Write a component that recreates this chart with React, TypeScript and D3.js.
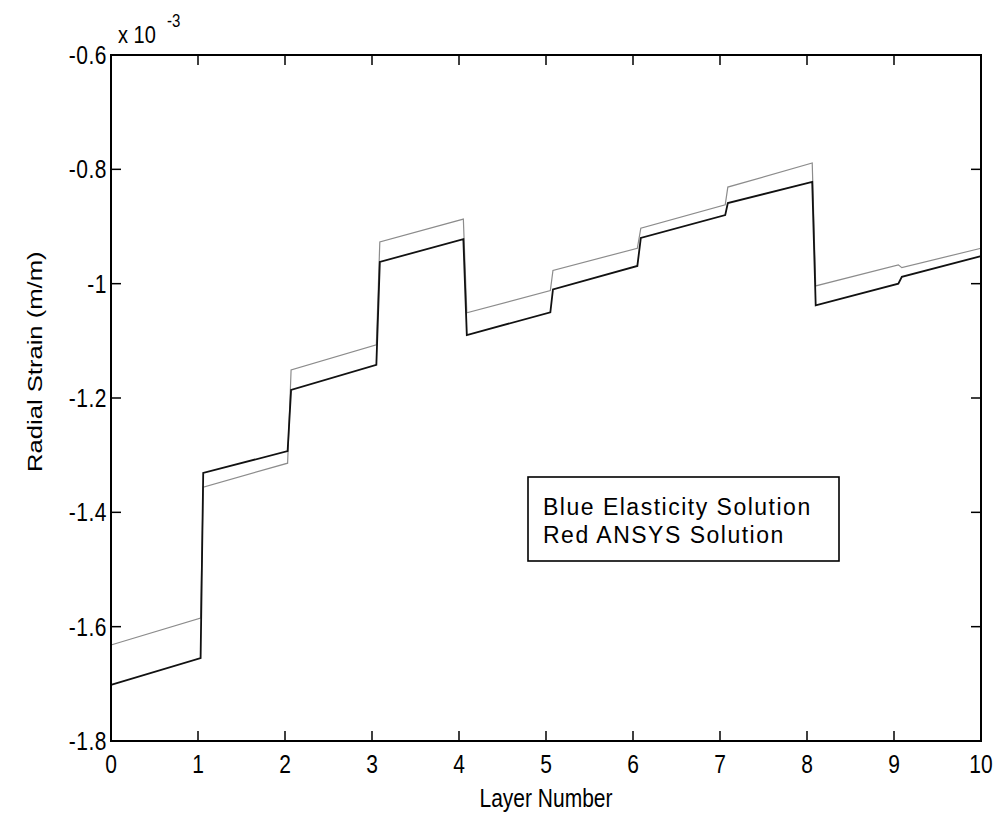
import React, { useEffect, useRef } from 'react';
import * as d3 from 'd3';

// Layer extents (layer number units) for each stepped segment
const layerStart = [0, 1.06, 2.07, 3.09, 4.09, 5.08, 6.09, 7.09, 8.1, 9.09];
const layerEnd = [1.03, 2.03, 3.05, 4.05, 5.05, 6.05, 7.06, 8.06, 9.05, 10];

// Radial strain (x 10^-3 m/m) at the start and end of each layer
const elasticityStart = [-1.702, -1.331, -1.186, -0.962, -1.09, -1.01, -0.92, -0.859, -1.038, -0.988];
const elasticityEnd = [-1.655, -1.293, -1.142, -0.922, -1.05, -0.969, -0.88, -0.822, -1.0, -0.952];
const ansysStart = [-1.632, -1.356, -1.151, -0.927, -1.051, -0.977, -0.903, -0.831, -1.004, -0.972];
const ansysEnd = [-1.585, -1.314, -1.107, -0.887, -1.012, -0.938, -0.862, -0.789, -0.967, -0.938];

const xTicks = [0, 1, 2, 3, 4, 5, 6, 7, 8, 9, 10];
const yTicks = [-1.8, -1.6, -1.4, -1.2, -1.0, -0.8, -0.6];
const legendLines = ['Blue Elasticity Solution', 'Red ANSYS Solution'];

const W = 995;
const H = 814;
const FONT = '"Liberation Sans", Arial, Helvetica, sans-serif';

export default function App() {
  const ref = useRef<SVGSVGElement>(null);

  useEffect(() => {
    const svg = d3.select(ref.current);
    svg.selectAll('*').remove();

    const left = 111, right = 981, top = 55, bottom = 741;
    const x = d3.scaleLinear().domain([0, 10]).range([left, right]);
    const y = d3.scaleLinear().domain([-1.8, -0.6]).range([bottom, top]);

    svg.append('rect').attr('width', W).attr('height', H).attr('fill', '#fff');

    const toPoints = (s: number[], e: number[]) => {
      const pts: [number, number][] = [];
      layerStart.forEach((xs, i) => {
        pts.push([xs, s[i]]);
        pts.push([layerEnd[i], e[i]]);
      });
      return pts;
    };

    const line = d3.line<[number, number]>().x(d => x(d[0])).y(d => y(d[1]));

    svg.append('path')
      .attr('d', line(toPoints(ansysStart, ansysEnd)))
      .attr('fill', 'none')
      .attr('stroke', '#8c8c8c')
      .attr('stroke-width', 1.2);

    svg.append('path')
      .attr('d', line(toPoints(elasticityStart, elasticityEnd)))
      .attr('fill', 'none')
      .attr('stroke', '#111')
      .attr('stroke-width', 1.8);

    // Frame
    svg.append('rect')
      .attr('x', left).attr('y', top)
      .attr('width', right - left).attr('height', bottom - top)
      .attr('fill', 'none').attr('stroke', '#000').attr('stroke-width', 2);

    const tk = 10;
    const g = svg.append('g').attr('stroke', '#000').attr('stroke-width', 1.5);
    xTicks.forEach(t => {
      g.append('line').attr('x1', x(t)).attr('x2', x(t)).attr('y1', bottom).attr('y2', bottom - tk);
      g.append('line').attr('x1', x(t)).attr('x2', x(t)).attr('y1', top).attr('y2', top + tk);
    });
    yTicks.forEach(t => {
      g.append('line').attr('x1', left).attr('x2', left + tk).attr('y1', y(t)).attr('y2', y(t));
      g.append('line').attr('x1', right).attr('x2', right - tk).attr('y1', y(t)).attr('y2', y(t));
    });

    const txt = svg.append('g').attr('font-family', FONT).attr('fill', '#000');

    xTicks.forEach(t => {
      txt.append('text')
        .attr('transform', `translate(${x(t)},773) scale(1,1.22)`)
        .attr('text-anchor', 'middle')
        .attr('font-size', 21)
        .text(String(t));
    });

    const fmt = (v: number) => String(Number(v.toFixed(1)));
    yTicks.forEach(t => {
      txt.append('text')
        .attr('transform', `translate(107,${y(t) + 9}) scale(1,1.22)`)
        .attr('text-anchor', 'end')
        .attr('font-size', 21)
        .attr('letter-spacing', 0.5)
        .text(fmt(t));
    });

    // Exponent label
    txt.append('text')
      .attr('transform', 'translate(118,43) scale(1,1.22)')
      .attr('font-size', 20)
      .text('x 10');
    txt.append('text')
      .attr('transform', 'translate(167,27) scale(1,1.22)')
      .attr('font-size', 15)
      .text('-3');

    // Axis titles
    txt.append('text')
      .attr('transform', `translate(${(left + right) / 2},807) scale(1,1.22)`)
      .attr('text-anchor', 'middle')
      .attr('font-size', 21)
      .text('Layer Number');

    txt.append('text')
      .attr('transform', 'translate(42,472) scale(1,1.22) rotate(-90)')
      .attr('text-anchor', 'start')
      .attr('font-size', 21)
      .text('Radial Strain (m/m)');

    // Legend box with its text on top
    const lg = svg.append('g');
    lg.append('rect')
      .attr('x', 528).attr('y', 477)
      .attr('width', 839 - 528).attr('height', 561 - 477)
      .attr('fill', '#fff').attr('stroke', '#000').attr('stroke-width', 1.6);

    legendLines.forEach((s, i) => {
      lg.append('text')
        .attr('x', 543).attr('y', 515 + i * 28)
        .attr('font-family', FONT)
        .attr('font-size', 23)
        .attr('letter-spacing', 1.5)
        .attr('fill', '#000')
        .text(s);
    });
  }, []);

  return (
    <svg
      ref={ref}
      width={W}
      height={H}
      style={{ position: 'absolute', left: 0, top: 0 }}
    />
  );
}
